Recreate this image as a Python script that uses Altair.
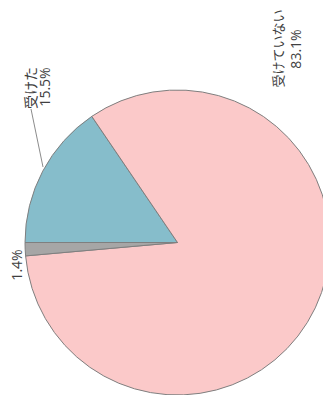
import math
import altair as alt
import pandas as pd

categories = ["受けた", "受けていない", "無回答"]
percents = [15.5, 83.1, 1.4]
order_idx = [1, 2, 3]
fill_colors = ["#86BDCB", "#FBC9C9", "#A6A6A6"]

df = pd.DataFrame({"cat": categories, "pct": percents, "idx": order_idx})
df["label"] = df["pct"].map(lambda v: f"{v:.1f}%")

JP_FONT = "Noto Sans CJK JP"
NUM_FONT = "Open Sans"
CX, CY, R = 169.5, 234.5, 152.5

base = alt.Chart(df)

pie = base.mark_arc(radius=R, stroke="#7F7F7F", strokeWidth=1).encode(
    theta=alt.Theta("pct:Q", stack=True,
                    scale=alt.Scale(range=[-math.pi / 2, 3 * math.pi / 2])),
    order=alt.Order("idx:Q"),
    color=alt.Color("cat:N", scale=alt.Scale(domain=categories, range=fill_colors), legend=None),
    x=alt.value(CX),
    y=alt.value(CY),
)

def txt(field, cat, x, y, font, size=14):
    return base.transform_filter(alt.datum.cat == cat).mark_text(
        angle=270, align="center", baseline="middle", font=font, fontSize=size, color="#404040"
    ).encode(text=f"{field}:N", x=alt.value(x), y=alt.value(y))

leader = base.transform_filter(alt.datum.cat == "受けた").mark_rule(
    color="#8C8C8C", strokeWidth=1
).encode(x=alt.value(23), y=alt.value(101), x2=alt.value(35), y2=alt.value(159))

chart = alt.layer(
    pie,
    leader,
    txt("cat", "受けた", 23.7, 80, JP_FONT),
    txt("label", "受けた", 38, 79, NUM_FONT),
    txt("cat", "受けていない", 270.7, 40.5, JP_FONT, 13),
    txt("label", "受けていない", 288.5, 41, NUM_FONT),
    txt("label", "無回答", 10, 257, NUM_FONT),
).properties(
    width=315, height=387, autosize=alt.AutoSizeParams(type="none"), padding=0
).configure_view(stroke=None)

chart.save("out.html", embed_options={"renderer": "svg", "actions": False})
